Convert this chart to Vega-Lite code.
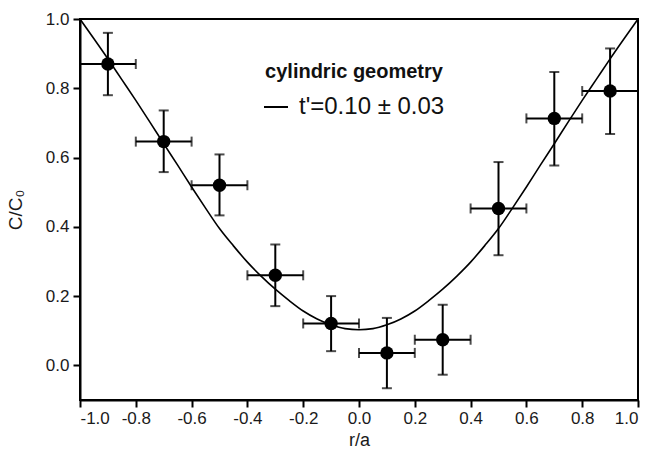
{
  "$schema": "https://vega.github.io/schema/vega-lite/v6.json",
  "width": 558,
  "height": 381,
  "autosize": "none",
  "padding": {"left": 80, "top": 19, "right": 14, "bottom": 53},
  "background": "white",
  "config": {
    "font": "Liberation Sans",
    "view": {"stroke": "black", "strokeWidth": 2},
    "axis": {"labelFont": "Liberation Sans", "titleFont": "Liberation Sans", "grid": false}
  },
  "datasets": {
    "pts": [
      {"r": -0.9, "c": 0.870, "ylo": 0.780, "yhi": 0.960, "xlo": -1.0, "xhi": -0.8},
      {"r": -0.7, "c": 0.646, "ylo": 0.558, "yhi": 0.736, "xlo": -0.8, "xhi": -0.6},
      {"r": -0.5, "c": 0.520, "ylo": 0.433, "yhi": 0.609, "xlo": -0.6, "xhi": -0.4},
      {"r": -0.3, "c": 0.260, "ylo": 0.171, "yhi": 0.349, "xlo": -0.4, "xhi": -0.2},
      {"r": -0.1, "c": 0.121, "ylo": 0.041, "yhi": 0.200, "xlo": -0.2, "xhi": 0.0},
      {"r": 0.1, "c": 0.036, "ylo": -0.066, "yhi": 0.137, "xlo": 0.0, "xhi": 0.2},
      {"r": 0.3, "c": 0.074, "ylo": -0.027, "yhi": 0.175, "xlo": 0.2, "xhi": 0.4},
      {"r": 0.5, "c": 0.453, "ylo": 0.318, "yhi": 0.587, "xlo": 0.4, "xhi": 0.6},
      {"r": 0.7, "c": 0.713, "ylo": 0.577, "yhi": 0.847, "xlo": 0.6, "xhi": 0.8},
      {"r": 0.9, "c": 0.792, "ylo": 0.668, "yhi": 0.915, "xlo": 0.8, "xhi": 1.0}
    ],
    "fit": [
      {"r": -1.0, "c": 1.0},
      {"r": -0.95, "c": 0.943},
      {"r": -0.9, "c": 0.885},
      {"r": -0.85, "c": 0.825},
      {"r": -0.8, "c": 0.765},
      {"r": -0.75, "c": 0.703},
      {"r": -0.7, "c": 0.640},
      {"r": -0.65, "c": 0.578},
      {"r": -0.6, "c": 0.515},
      {"r": -0.55, "c": 0.454},
      {"r": -0.5, "c": 0.395},
      {"r": -0.45, "c": 0.345},
      {"r": -0.4, "c": 0.298},
      {"r": -0.35, "c": 0.257},
      {"r": -0.3, "c": 0.220},
      {"r": -0.25, "c": 0.187},
      {"r": -0.2, "c": 0.157},
      {"r": -0.15, "c": 0.134},
      {"r": -0.1, "c": 0.117},
      {"r": -0.05, "c": 0.106},
      {"r": 0.0, "c": 0.103},
      {"r": 0.05, "c": 0.106},
      {"r": 0.1, "c": 0.117},
      {"r": 0.15, "c": 0.134},
      {"r": 0.2, "c": 0.157},
      {"r": 0.25, "c": 0.187},
      {"r": 0.3, "c": 0.220},
      {"r": 0.35, "c": 0.257},
      {"r": 0.4, "c": 0.298},
      {"r": 0.45, "c": 0.345},
      {"r": 0.5, "c": 0.395},
      {"r": 0.55, "c": 0.454},
      {"r": 0.6, "c": 0.515},
      {"r": 0.65, "c": 0.578},
      {"r": 0.7, "c": 0.640},
      {"r": 0.75, "c": 0.703},
      {"r": 0.8, "c": 0.765},
      {"r": 0.85, "c": 0.825},
      {"r": 0.9, "c": 0.885},
      {"r": 0.95, "c": 0.943},
      {"r": 1.0, "c": 1.0}
    ]
  },
  "layer": [
    {
      "data": {"name": "fit"},
      "mark": {"type": "line", "strokeWidth": 1.6, "interpolate": "monotone", "clip": true},
      "encoding": {
        "x": {
          "field": "r", "type": "quantitative",
          "scale": {"domain": [-1, 1], "nice": false, "zero": false},
          "axis": {
            "title": "r/a",
            "values": [-1, -0.9, -0.8, -0.7, -0.6, -0.5, -0.4, -0.3, -0.2, -0.1, 0, 0.1, 0.2, 0.3, 0.4, 0.5, 0.6, 0.7, 0.8, 0.9, 1],
            "labelExpr": "abs(round(datum.value*10))%2==0 ? replace(format(datum.value,'.1f'),'\u2212','-') : ''",
            "tickSize": {"condition": {"test": "abs(round(datum.value*10))%2==0", "value": 7}, "value": 4},
            "tickWidth": 2, "tickColor": "black",
            "domainWidth": 2, "domainColor": "black",
            "labelFontSize": 17, "labelColor": "#1a1a1a", "labelPadding": 3,
            "titleFontSize": 18, "titleFontWeight": "normal", "titleColor": "#1a1a1a", "titlePadding": 5
          }
        },
        "y": {
          "field": "c", "type": "quantitative",
          "scale": {"domain": [-0.1, 1.0], "nice": false, "zero": false},
          "axis": {
            "title": "C/C\u2080",
            "values": [0, 0.1, 0.2, 0.3, 0.4, 0.5, 0.6, 0.7, 0.8, 0.9, 1],
            "labelExpr": "abs(round(datum.value*10))%2==0 ? replace(format(datum.value,'.1f'),'\u2212','-') : ''",
            "tickSize": {"condition": {"test": "abs(round(datum.value*10))%2==0", "value": 7}, "value": 4},
            "tickWidth": 2, "tickColor": "black",
            "domainWidth": 2, "domainColor": "black",
            "labelFontSize": 17, "labelColor": "#1a1a1a", "labelPadding": 4,
            "titleFontSize": 19, "titleFontWeight": "normal", "titleColor": "#1a1a1a", "titlePadding": 20
          }
        },
        "color": {
          "datum": "t'=0.10 \u00b1 0.03",
          "scale": {"range": ["black"]},
          "legend": {
            "orient": "none", "legendX": 183, "legendY": 43,
            "title": "cylindric geometry",
            "titleFontSize": 20, "titleFontWeight": "bold", "titleColor": "#111", "titlePadding": 12,
            "titleAnchor": "middle",
            "symbolType": "stroke", "symbolSize": 576, "symbolStrokeWidth": 2, "symbolStrokeColor": "black",
            "labelFontSize": 24, "labelColor": "#111", "labelOffset": 10, "labelLimit": 300,
            "labelFont": "Liberation Sans", "titleFont": "Liberation Sans", "titleLimit": 300
          }
        }
      }
    },
    {
      "data": {"name": "pts"},
      "mark": {"type": "rule", "color": "black", "strokeWidth": 2},
      "encoding": {
        "x": {"field": "r", "type": "quantitative"},
        "y": {"field": "ylo", "type": "quantitative"},
        "y2": {"field": "yhi"}
      }
    },
    {
      "data": {"name": "pts"},
      "mark": {"type": "rule", "color": "black", "strokeWidth": 2},
      "encoding": {
        "x": {"field": "xlo", "type": "quantitative"},
        "x2": {"field": "xhi"},
        "y": {"field": "c", "type": "quantitative"}
      }
    },
    {
      "data": {"name": "pts"},
      "mark": {"type": "tick", "orient": "horizontal", "color": "black", "size": 10, "thickness": 2},
      "encoding": {
        "x": {"field": "r", "type": "quantitative"},
        "y": {"field": "ylo", "type": "quantitative"}
      }
    },
    {
      "data": {"name": "pts"},
      "mark": {"type": "tick", "orient": "horizontal", "color": "black", "size": 10, "thickness": 2},
      "encoding": {
        "x": {"field": "r", "type": "quantitative"},
        "y": {"field": "yhi", "type": "quantitative"}
      }
    },
    {
      "data": {"name": "pts"},
      "mark": {"type": "tick", "orient": "vertical", "color": "black", "size": 10, "thickness": 2},
      "encoding": {
        "x": {"field": "xlo", "type": "quantitative"},
        "y": {"field": "c", "type": "quantitative"}
      }
    },
    {
      "data": {"name": "pts"},
      "mark": {"type": "tick", "orient": "vertical", "color": "black", "size": 10, "thickness": 2},
      "encoding": {
        "x": {"field": "xhi", "type": "quantitative"},
        "y": {"field": "c", "type": "quantitative"}
      }
    },
    {
      "data": {"name": "pts"},
      "mark": {"type": "circle", "color": "black", "opacity": 1, "size": 180},
      "encoding": {
        "x": {"field": "r", "type": "quantitative"},
        "y": {"field": "c", "type": "quantitative"}
      }
    }
  ]
}
